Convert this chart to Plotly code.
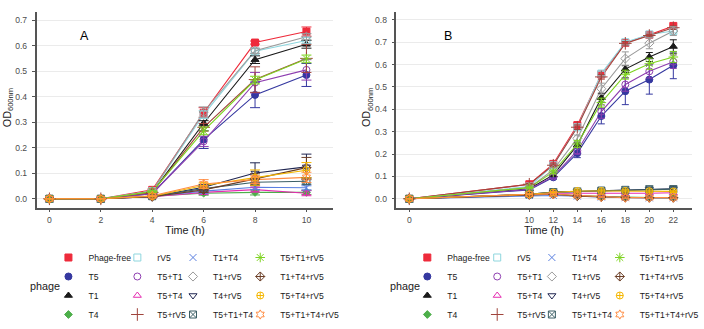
import plotly.graph_objects as go

# ---- data -------------------------------------------------------------
phages = ["Phage-free", "T5", "T1", "T4",
          "rV5", "T5+T1", "T5+T4", "T5+rV5",
          "T1+T4", "T1+rV5", "T4+rV5", "T5+T1+T4",
          "T5+T1+rV5", "T1+T4+rV5", "T5+T4+rV5", "T5+T1+T4+rV5"]

time_a = [0, 2, 4, 6, 8, 10]
od_a = {
    "Phage-free":   [0, 0, 0.035, 0.337, 0.612, 0.655],
    "T5":           [0, 0, 0.020, 0.232, 0.407, 0.485],
    "T1":           [0, 0, 0.025, 0.296, 0.545, 0.605],
    "T4":           [0, 0, 0.010, 0.022, 0.025, 0.025],
    "rV5":          [0, 0, 0.030, 0.330, 0.578, 0.620],
    "T5+T1":        [0, 0, 0.020, 0.225, 0.455, 0.505],
    "T5+T4":        [0, 0, 0.008, 0.025, 0.036, 0.022],
    "T5+rV5":       [0, 0, 0.025, 0.280, 0.467, 0.550],
    "T1+T4":        [0, 0, 0.010, 0.030, 0.045, 0.043],
    "T1+rV5":       [0, 0, 0.030, 0.340, 0.580, 0.635],
    "T4+rV5":       [0, 0, 0.008, 0.045, 0.101, 0.125],
    "T5+T1+T4":     [0, 0, 0.010, 0.040, 0.065, 0.069],
    "T5+T1+rV5":    [0, 0, 0.028, 0.266, 0.465, 0.548],
    "T1+T4+rV5":    [0, 0, 0.008, 0.035, 0.078, 0.122],
    "T5+T4+rV5":    [0, 0, 0.010, 0.052, 0.083, 0.112],
    "T5+T1+T4+rV5": [0, 0, 0.012, 0.058, 0.075, 0.084],
}
sd_a = {
    "Phage-free":   [0, 0, 0.003, 0.020, 0.006, 0.018],
    "T5":           [0, 0, 0.003, 0.035, 0.050, 0.045],
    "T1":           [0, 0, 0.003, 0.010, 0.015, 0.015],
    "T4":           [0, 0, 0.002, 0.008, 0.010, 0.008],
    "rV5":          [0, 0, 0.003, 0.015, 0.010, 0.012],
    "T5+T1":        [0, 0, 0.003, 0.020, 0.040, 0.040],
    "T5+T4":        [0, 0, 0.002, 0.008, 0.010, 0.010],
    "T5+rV5":       [0, 0, 0.003, 0.015, 0.050, 0.055],
    "T1+T4":        [0, 0, 0.002, 0.008, 0.008, 0.008],
    "T1+rV5":       [0, 0, 0.003, 0.020, 0.010, 0.012],
    "T4+rV5":       [0, 0, 0.002, 0.010, 0.040, 0.050],
    "T5+T1+T4":     [0, 0, 0.002, 0.010, 0.012, 0.012],
    "T5+T1+rV5":    [0, 0, 0.003, 0.015, 0.015, 0.015],
    "T1+T4+rV5":    [0, 0, 0.002, 0.010, 0.020, 0.040],
    "T5+T4+rV5":    [0, 0, 0.002, 0.010, 0.030, 0.030],
    "T5+T1+T4+rV5": [0, 0, 0.002, 0.017, 0.015, 0.020],
}

time_b = [0, 10, 12, 14, 16, 18, 20, 22]
od_b = {
    "Phage-free":   [0, 0.065, 0.156, 0.329, 0.556, 0.697, 0.733, 0.773],
    "T5":           [0, 0.040, 0.096, 0.204, 0.370, 0.481, 0.533, 0.597],
    "T1":           [0, 0.045, 0.107, 0.240, 0.452, 0.580, 0.634, 0.681],
    "T4":           [0, 0.018, 0.020, 0.015, 0.010, 0.008, 0.006, 0.005],
    "rV5":          [0, 0.055, 0.150, 0.320, 0.560, 0.700, 0.735, 0.750],
    "T5+T1":        [0, 0.042, 0.100, 0.215, 0.390, 0.511, 0.570, 0.613],
    "T5+T4":        [0, 0.018, 0.025, 0.025, 0.022, 0.022, 0.025, 0.027],
    "T5+rV5":       [0, 0.065, 0.150, 0.320, 0.545, 0.695, 0.730, 0.765],
    "T1+T4":        [0, 0.015, 0.015, 0.012, 0.008, 0.005, 0.004, 0.004],
    "T1+rV5":       [0, 0.050, 0.130, 0.270, 0.492, 0.627, 0.696, 0.750],
    "T4+rV5":       [0, 0.020, 0.030, 0.033, 0.036, 0.038, 0.042, 0.045],
    "T5+T1+T4":     [0, 0.020, 0.030, 0.033, 0.037, 0.040, 0.043, 0.043],
    "T5+T1+rV5":    [0, 0.050, 0.120, 0.245, 0.430, 0.555, 0.604, 0.634],
    "T1+T4+rV5":    [0, 0.018, 0.020, 0.012, 0.008, 0.006, 0.005, 0.005],
    "T5+T4+rV5":    [0, 0.020, 0.028, 0.035, 0.035, 0.035, 0.034, 0.033],
    "T5+T1+T4+rV5": [0, 0.020, 0.020, 0.015, 0.008, 0.005, 0.005, 0.005],
}
sd_b = {
    "Phage-free":   [0, 0.003, 0.008, 0.015, 0.010, 0.008, 0.006, 0.008],
    "T5":           [0, 0.003, 0.008, 0.020, 0.035, 0.060, 0.065, 0.060],
    "T1":           [0, 0.003, 0.005, 0.010, 0.020, 0.015, 0.020, 0.030],
    "T4":           [0, 0.002, 0.003, 0.003, 0.003, 0.003, 0.003, 0.003],
    "rV5":          [0, 0.003, 0.006, 0.010, 0.010, 0.008, 0.006, 0.008],
    "T5+T1":        [0, 0.003, 0.008, 0.015, 0.030, 0.030, 0.030, 0.030],
    "T5+T4":        [0, 0.002, 0.004, 0.004, 0.004, 0.004, 0.005, 0.006],
    "T5+rV5":       [0, 0.003, 0.006, 0.010, 0.010, 0.008, 0.006, 0.008],
    "T1+T4":        [0, 0.002, 0.003, 0.003, 0.003, 0.003, 0.003, 0.003],
    "T1+rV5":       [0, 0.003, 0.008, 0.015, 0.025, 0.030, 0.025, 0.020],
    "T4+rV5":       [0, 0.002, 0.004, 0.005, 0.006, 0.008, 0.010, 0.012],
    "T5+T1+T4":     [0, 0.002, 0.004, 0.005, 0.006, 0.008, 0.010, 0.010],
    "T5+T1+rV5":    [0, 0.003, 0.008, 0.015, 0.020, 0.020, 0.025, 0.025],
    "T1+T4+rV5":    [0, 0.002, 0.003, 0.003, 0.003, 0.003, 0.003, 0.003],
    "T5+T4+rV5":    [0, 0.002, 0.005, 0.005, 0.005, 0.005, 0.005, 0.005],
    "T5+T1+T4+rV5": [0, 0.002, 0.003, 0.003, 0.003, 0.003, 0.003, 0.003],
}

ticks_a = [0, 2, 4, 6, 8, 10]
ticks_b = [0, 10, 12, 14, 16, 18, 20, 22]

# ---- styling ------------------------------------------------------------
colors = {
    "Phage-free": "#EE2B3B", "T5": "#3538A0", "T1": "#1A1A1A", "T4": "#4DAF4A",
    "rV5": "#8ED6DE", "T5+T1": "#8E3FB0", "T5+T4": "#E52BB0", "T5+rV5": "#A0443C",
    "T1+T4": "#5A7FE0", "T1+rV5": "#9A9A9A", "T4+rV5": "#1F2550", "T5+T1+T4": "#3C5F66",
    "T5+T1+rV5": "#7ED321", "T1+T4+rV5": "#6B3E26", "T5+T4+rV5": "#F5B700",
    "T5+T1+T4+rV5": "#FF8C42",
}
symbols = {
    "Phage-free": "square", "T5": "circle", "T1": "triangle-up", "T4": "diamond",
    "rV5": "square-open", "T5+T1": "circle-open", "T5+T4": "triangle-up-open",
    "T5+rV5": "cross-thin-open", "T1+T4": "x-thin-open", "T1+rV5": "diamond-open",
    "T4+rV5": "triangle-down-open", "T5+T1+T4": "square-x-open",
    "T5+T1+rV5": "asterisk-open", "T1+T4+rV5": "diamond-cross-open",
    "T5+T4+rV5": "circle-cross-open", "T5+T1+T4+rV5": "hexagram-open",
}
sizes = {"T4": 6, "T5+rV5": 9, "T1+T4": 7, "T5+T1+rV5": 8}

FONT = "Liberation Sans, Arial, sans-serif"
W, H = 704, 329

fig = go.Figure()

panels = [
    dict(x=time_a, od=od_a, sd=sd_a, xa="x", ya="y", cap=5, legends=[1, 2, 3, 4]),
    dict(x=time_b, od=od_b, sd=sd_b, xa="x2", ya="y2", cap=3.5, legends=[5, 6, 7, 8]),
]

for p in panels:
    # connecting lines underneath every point layer
    for name in phages:
        fig.add_trace(go.Scatter(
            x=p["x"], y=p["od"][name], mode="lines", xaxis=p["xa"], yaxis=p["ya"],
            line=dict(color=colors[name], width=1.1), showlegend=False,
            hoverinfo="skip"))
    # points with error bars, these carry the legend entries
    for i, name in enumerate(phages):
        leg_id = p["legends"][i // 4]
        fig.add_trace(go.Scatter(
            x=p["x"], y=p["od"][name], mode="markers", name=name,
            xaxis=p["xa"], yaxis=p["ya"],
            legend="legend" if leg_id == 1 else f"legend{leg_id}",
            marker=dict(symbol=symbols[name], color=colors[name],
                        size=sizes.get(name, 7), line=dict(width=1, color=colors[name])),
            error_y=dict(type="data", array=p["sd"][name], color=colors[name],
                         thickness=1, width=p["cap"]),
        ))

# ---- axes -----------------------------------------------------------------
def px_x(v):
    return v / W

def px_y(v):
    return 1 - v / H

axis_common = dict(
    showline=True, linecolor="#555555", linewidth=1.5, ticks="outside", ticklen=3,
    tickcolor="#555555", tickwidth=1, tickfont=dict(family=FONT, size=8.6, color="#4D4D4D"),
    zeroline=False, automargin=False,
)
y_dom = [px_y(209), px_y(12)]

fig.update_layout(
    xaxis=dict(domain=[px_x(37), px_x(337)], range=[-0.5, 11.04], tickvals=ticks_a,
               showgrid=False, anchor="y", **axis_common),
    yaxis=dict(domain=y_dom, range=[-0.035, 0.732], dtick=0.1, tickformat=".1f",
               showgrid=True, gridcolor="#EBEBEB", gridwidth=1, anchor="x",
               ticklabelstandoff=3, **axis_common),
    xaxis2=dict(domain=[px_x(401), px_x(700)], range=[-1.07, 23.56], tickvals=ticks_b,
                showgrid=False, anchor="y2", **axis_common),
    yaxis2=dict(domain=y_dom, range=[-0.04, 0.8356], dtick=0.1, tickformat=".1f",
                showgrid=True, gridcolor="#EBEBEB", gridwidth=1, anchor="x2",
                ticklabelstandoff=3, **axis_common),
)

# ---- legends: four columns per panel -------------------------------------
legend_text_x = [86, 155.7, 212, 280, 449, 519.7, 575, 643.7]
leg_top = px_y(244.7)
for k, tx in enumerate(legend_text_x, start=1):
    key = "legend" if k == 1 else f"legend{k}"
    fig.update_layout({key: dict(
        x=px_x(tx - 37), y=leg_top, xanchor="left", yanchor="top",
        orientation="v", bgcolor="rgba(0,0,0,0)", borderwidth=0,
        font=dict(family=FONT, size=8.6, color="#1A1A1A"), itemclick=False,
        itemdoubleclick=False, tracegroupgap=0)})

# ---- annotations ---------------------------------------------------------
ann = []
for cx, xt in [((37 + 337) / 2, 8), ((401 + 700) / 2, 372)]:
    ann.append(dict(text="Time (h)", x=px_x(cx), y=px_y(231.5), xref="paper", yref="paper",
                    showarrow=False, font=dict(family=FONT, size=10.8, color="#1A1A1A"),
                    xanchor="center", yanchor="middle"))
    ann.append(dict(text="OD<sub>600nm</sub>", x=px_x(xt), y=px_y(108), xref="paper",
                    yref="paper", showarrow=False, textangle=-90,
                    font=dict(family=FONT, size=10.8, color="#1A1A1A"),
                    xanchor="center", yanchor="middle"))
for lx in [45.7, 410]:
    ann.append(dict(text="phage", x=px_x(lx), y=px_y(288), xref="paper", yref="paper",
                    showarrow=False, font=dict(family=FONT, size=10.8, color="#1A1A1A"),
                    xanchor="center", yanchor="middle"))
ann.append(dict(text="A", x=1.365, y=0.637, xref="x", yref="y", showarrow=False,
                font=dict(family=FONT, size=12.5, color="#000000")))
ann.append(dict(text="B", x=3.21, y=0.730, xref="x2", yref="y2", showarrow=False,
                font=dict(family=FONT, size=12.5, color="#000000")))

fig.update_layout(
    annotations=ann, width=W, height=H, margin=dict(l=0, r=0, t=0, b=0),
    paper_bgcolor="white", plot_bgcolor="white", font=dict(family=FONT),
)

fig.write_html("out.html")
